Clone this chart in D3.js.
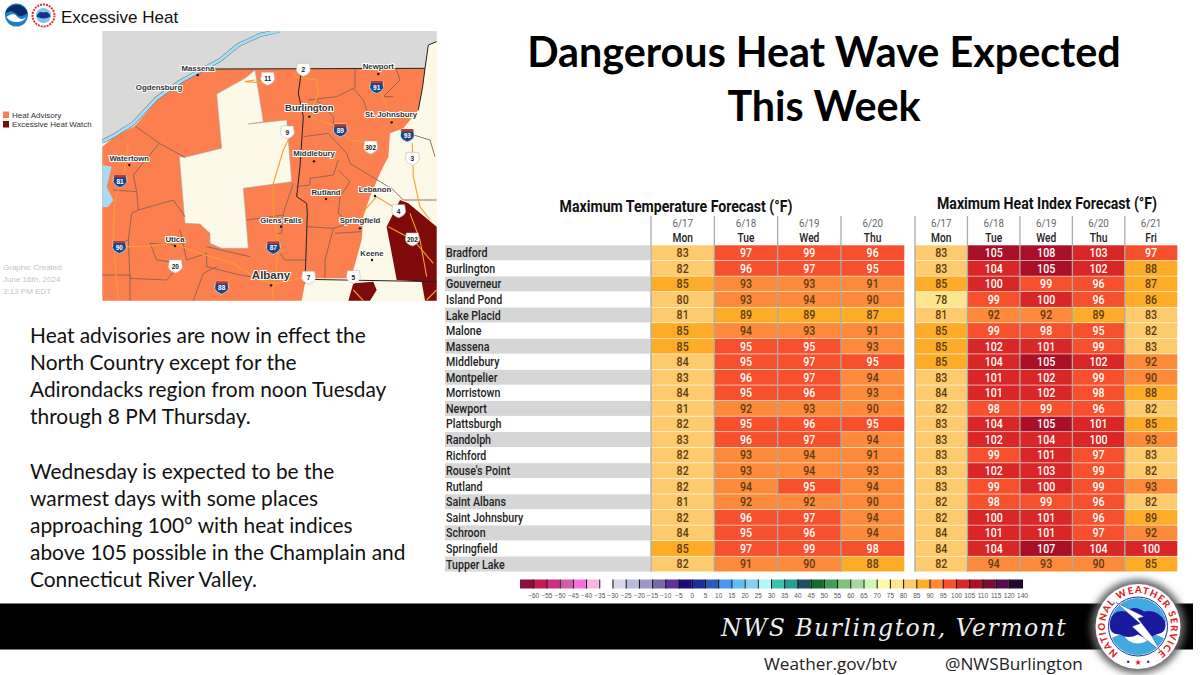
<!DOCTYPE html>
<html>
<head>
<meta charset="utf-8">
<script src="https://cdn.jsdelivr.net/npm/d3@7"></script>
<style>
body { margin: 0; background: #fff; }
svg { display: block; }
text { font-family: Lato, sans-serif; }
.narrow { font-family: Roboto, sans-serif; }
.map-label { font-family: "Liberation Sans", sans-serif; font-weight: 700; fill: #333; stroke: #fff; stroke-width: 2px; paint-order: stroke; }
</style>
</head>
<body>
<svg id="chart" width="1200" height="675"></svg>
<script>
let stations = ["Bradford","Burlington","Gouverneur","Island Pond","Lake Placid","Malone","Massena","Middlebury","Montpelier","Morristown","Newport","Plattsburgh","Randolph","Richford","Rouse's Point","Rutland","Saint Albans","Saint Johnsbury","Schroon","Springfield","Tupper Lake"]
let tempDates = ["6/17","6/18","6/19","6/20"]
let tempDays = ["Mon","Tue","Wed","Thu"]
let tempValues = [[83,97,99,96],[82,96,97,95],[85,93,93,91],[80,93,94,90],[81,89,89,87],[85,94,93,91],[85,95,95,93],[84,95,97,95],[83,96,97,94],[84,95,96,93],[81,92,93,90],[82,95,96,95],[83,96,97,94],[82,93,94,91],[82,93,94,93],[82,94,95,94],[81,92,92,90],[82,96,97,94],[84,95,96,94],[85,97,99,98],[82,91,90,88]]
let heatDates = ["6/17","6/18","6/19","6/20","6/21"]
let heatDays = ["Mon","Tue","Wed","Thu","Fri"]
let heatValues = [[83,105,108,103,97],[83,104,105,102,88],[85,100,99,96,87],[78,99,100,96,86],[81,92,92,89,83],[85,99,98,95,82],[85,102,101,99,83],[85,104,105,102,92],[83,101,102,99,90],[84,101,102,98,88],[82,98,99,96,82],[83,104,105,101,85],[83,102,104,100,93],[83,99,101,97,83],[83,102,103,99,82],[83,99,100,99,93],[82,98,99,96,82],[82,100,101,96,89],[84,101,101,97,92],[84,104,107,104,100],[82,94,93,90,85]]

let legendTicks = [-60,-55,-50,-45,-40,-35,-30,-25,-20,-15,-10,-5,0,5,10,15,20,25,30,35,40,45,50,55,60,65,70,75,80,85,90,95,100,105,110,115,120,140]
let legendColors = ["#8a0f3c","#c51d52","#d12a83","#cd5fa6","#f86edc","#fdb4e3","#ffffff","#d8d8ea","#bbb9dc","#9e98c9","#7a68ac","#5e2f9a","#1e0a7c","#1f2e96","#2a5cb5","#4a96f0","#5fbef0","#88cdf2","#b0f5f7","#3fc2ad","#2a9a95","#20505f","#136b2f","#3f9f58","#7fc07a","#a5d8a0","#cff7b8","#fefba5","#fde68f","#fdcb6e","#feac28","#fd8a3a","#f6502c","#d92626","#a91028","#7a0c2e","#570a4e","#25082f"]

let titleLines = ["Dangerous Heat Wave Expected","This Week"]
let bodyLines = ["Heat advisories are now in effect the","North Country except for the","Adirondacks region from noon Tuesday","through 8 PM Thursday.","","Wednesday is expected to be the","warmest days with some places","approaching 100° with heat indices","above 105 possible in the Champlain and","Connecticut River Valley."]

// map shapes in crop units (3x)
let grayLand = [[307,92],[1310,92],[1310,125],[1285,135],[1275,205],[640,207],[590,215],[540,240],[480,285],[405,375],[350,405],[307,430]]
let advisoryArea = [[307,440],[345,408],[405,378],[480,290],[545,240],[590,218],[640,207],[1275,205],[1268,260],[1255,330],[1210,385],[1170,400],[1165,470],[1140,520],[1110,590],[1090,650],[1085,720],[1060,810],[1060,835],[950,835],[915,850],[905,902],[307,902]]
let adirondacks = [[650,282],[735,235],[765,210],[790,365],[745,372],[860,360],[875,545],[730,565],[745,745],[665,745],[630,730],[630,700],[600,672],[555,670],[538,470],[555,472],[665,445]]
let watchAreas = [
  [[1200,600],[1225,610],[1310,680],[1310,845],[1270,845],[1190,840],[1160,680]],
  [[1265,845],[1310,845],[1310,902],[1275,902]],
  [[1045,902],[1060,850],[1120,845],[1130,870],[1110,902]]
]
let lakeOntario = [[307,495],[335,500],[320,560],[340,600],[325,620],[307,622]]
let riverLine = [[838,92],[780,105],[715,135],[660,180],[600,212],[540,245],[470,295],[400,370],[345,405],[307,425]]
let countyLines = [
  [[405,378],[478,430],[555,472]],
  [[478,430],[400,525],[410,575],[340,570]],
  [[410,575],[415,630],[395,640],[385,720],[340,730]],
  [[415,630],[520,600],[555,650]],
  [[385,720],[390,835],[500,840],[545,790],[470,780],[450,730],[525,735]],
  [[307,825],[390,825],[390,902]],
  [[540,690],[560,780],[620,760],[620,800],[720,825],[750,830]],
  [[620,740],[750,770]],
  [[650,800],[610,820],[580,902]],
  [[925,300],[1010,290],[1060,265],[1090,300],[1105,345]],
  [[1065,205],[1065,265]],
  [[1190,210],[1200,240],[1150,290],[1180,290]],
  [[1000,390],[1000,350],[950,300]],
  [[910,410],[985,400],[1040,460],[1050,490],[1165,560]],
  [[1015,480],[1000,525],[930,535],[930,555],[890,560]],
  [[1015,510],[1050,545],[1020,590],[1015,640],[1050,670],[1000,685],[920,680]],
  [[1000,685],[975,780],[975,835]],
  [[1085,695],[1005,700]],
  [[850,640],[880,550]],
  [[850,640],[845,700],[830,700]],
  [[740,660],[850,645]],
  [[920,780],[855,780],[840,760]],
  [[1225,400],[1290,420],[1305,470]],
  [[1170,560],[1210,600],[1310,600]]
]
let stateLines = [
  [[640,207],[1275,205]],
  [[905,207],[895,280],[910,350],[900,500],[890,590],[920,610],[922,640],[915,850]],
  [[915,838],[1310,845]],
  [[1310,125],[1285,135],[1275,205],[1268,260],[1255,330]]
]
let roads = [
  [[385,430],[370,530],[345,600],[340,700],[345,790],[355,902]],
  [[340,740],[430,740],[520,730],[600,760],[700,790],[780,840],[830,850],[900,835]],
  [[815,902],[830,800],[835,720],[820,640],[820,550],[850,450],[865,420]],
  [[880,230],[950,240],[955,280],[925,350],[1000,375],[1050,420],[1130,430]],
  [[1130,260],[1150,290],[1175,367],[1225,410]],
  [[1237,430],[1240,530],[1260,620],[1290,660]],
  [[1195,630],[1130,590],[1085,640]],
  [[1165,680],[1240,720],[1300,790]],
  [[1230,640],[1260,720],[1280,830]],
  [[1060,870],[1090,902]],
  [[1280,900],[1310,870]],
  [[640,880],[700,830]],
  [[765,240],[735,245],[800,250]]
]
let cities = [["Massena",594,205,593,225,7.8],["Ogdensburg",477,263,null,null,7.8],["Newport",1135,198,1135,222,7.8],["Burlington",928,322,928,350,9.6],["St. Johnsbury",1173,342,1175,367,7.8],["Watertown",388,476,388,495,7.8],["Middlebury",942,460,942,484,7.8],["Rutland",978,577,978,597,7.8],["Lebanon",1125,568,1125,588,7.8],["Glens Falls",843,660,843,680,7.8],["Springfield",1080,660,1080,685,7.8],["Utica",525,718,525,738,7.8],["Keene",1116,760,1116,780,7.8],["Albany",813,826,813,856,11.5]]
let shields = [["11",803,235,"us"],["2",910,208,"us"],["91",1130,260,"i"],["9",862,396,"us"],["89",1021,390,"i"],["93",1222,405,"i"],["302",1112,441,"us"],["3",1237,475,"us"],["81",360,542,"i"],["4",1196,632,"us"],["202",1237,717,"us"],["90",358,740,"i"],["87",820,742,"i"],["20",526,798,"us"],["88",665,862,"i"],["7",926,832,"us"],["5",1060,830,"us"]]

let svg = d3.select("#chart")
let defs = svg.append("defs")
defs.append("filter").attr("id","blur").attr("x","-30%").attr("y","-30%").attr("width","160%").attr("height","160%")
    .append("feGaussianBlur").attr("stdDeviation",3.5)
defs.append("clipPath").attr("id","mapClip").append("rect")
    .attr("x",102).attr("y",31).attr("width",335).attr("height",270)

// color for a value, same bins as the legend
let color = d3.scaleThreshold().domain(legendTicks).range([legendColors[0]].concat(legendColors.slice(1),legendColors[legendColors.length-1]))

let rowScale = d3.scaleBand().domain(stations).range([245,571.8]).paddingInner(0.04).paddingOuter(0.02)

// no condensed font is installed so squeeze Roboto sideways
function squeeze(sel, x, y, k){
    sel.attr("transform",(d,i)=>`translate(${x(d,i)},${y(d,i)}) scale(${k},1)`)
}

function drawTable(title, titleX, titleY, dates, days, values, x0, x1){
    let g = svg.append("g")
    let xs = d3.scaleBand().domain(d3.range(dates.length)).range([x0,x1])
    g.append("text").attr("class","narrow")
        .attr("text-anchor","middle").attr("font-size",16.5).attr("font-weight",700).attr("fill","#111").text(title)
        .call(squeeze,()=>titleX,()=>titleY,0.855)

    let rows = g.selectAll("g.row").data(values).join("g").attr("class","row")
    rows.selectAll("rect").data((d,i)=>d.map((v,j)=>({v:v,j:j,i:i}))).join("rect")
        .attr("x",d=>xs(d.j)).attr("width",xs.bandwidth())
        .attr("y",d=>rowScale(stations[d.i])).attr("height",rowScale.bandwidth())
        .attr("fill",d=>color(d.v))
    rows.selectAll("text").data((d,i)=>d.map((v,j)=>({v:v,j:j,i:i}))).join("text")
        .attr("class","narrow")
        .attr("text-anchor","middle").attr("font-size",12.5)
        .attr("font-weight",500)
        .attr("fill",d=>d.v>=95?"#fff":"#5a3c10")
        .text(d=>d.v)
        .call(squeeze,d=>xs(d.j)+xs.bandwidth()/2,d=>rowScale(stations[d.i])+rowScale.bandwidth()/2+4.4,0.85)

    g.selectAll("text.date").data(dates).join("text").attr("class","date narrow")
        .attr("text-anchor","middle").attr("font-size",11.5).attr("fill","#666").text(d=>d)
        .call(squeeze,(d,i)=>xs(i)+xs.bandwidth()/2,()=>227,0.85)
    g.selectAll("text.day").data(days).join("text").attr("class","day narrow")
        .attr("text-anchor","middle").attr("font-size",12).attr("font-weight",500).attr("fill","#222").text(d=>d)
        .call(squeeze,(d,i)=>xs(i)+xs.bandwidth()/2,()=>242,0.85)
    g.selectAll("line").data(d3.range(dates.length)).join("line")
        .attr("x1",d=>xs(d)).attr("x2",d=>xs(d)).attr("y1",216).attr("y2",571.8)
        .attr("stroke","#aaa").attr("stroke-width",1.3)
}

// station names
svg.selectAll("rect.band").data(stations.filter((d,i)=>i%2==0)).join("rect").attr("class","band")
    .attr("x",445).attr("width",205).attr("y",d=>rowScale(d)).attr("height",rowScale.bandwidth())
    .attr("fill","#d6d6d6")
svg.selectAll("text.station").data(stations).join("text").attr("class","station narrow")
    .attr("font-size",13).attr("font-weight",500).attr("fill","#222").text(d=>d)
    .call(squeeze,()=>446,d=>rowScale(d)+rowScale.bandwidth()/2+4.5,0.82)

drawTable("Maximum Temperature Forecast (°F)",676,212,tempDates,tempDays,tempValues,651,904.3)
drawTable("Maximum Heat Index Forecast (°F)",1047,209,heatDates,heatDays,heatValues,915,1177.3)

// legend
let legendX = d3.scaleBand().domain(legendTicks).range([520,1022])
svg.selectAll("rect.swatch").data(legendTicks).join("rect").attr("class","swatch")
    .attr("x",d=>legendX(d)).attr("y",579.5).attr("width",legendX.bandwidth()).attr("height",9)
    .attr("fill",(d,i)=>legendColors[i])
let legendPoint = d3.scalePoint().domain(legendTicks).range([520+legendX.bandwidth(),1022])
let legendAxis = svg.append("g").attr("transform","translate(0,579.5)")
    .call(d3.axisBottom(legendPoint).tickSize(9).tickPadding(3).tickFormat(d=>d<0?"−"+(-d):d))
legendAxis.select(".domain").remove()
legendAxis.selectAll("line").attr("stroke","#111").attr("stroke-width",1)
legendAxis.selectAll("text").style("font-family","'Liberation Sans',sans-serif").attr("font-size",6.5).attr("fill","#555")
    .attr("y",14)

// headline
svg.selectAll("text.title").data(titleLines).join("text").attr("class","title")
    .attr("x",824).attr("y",(d,i)=>67+i*54).attr("text-anchor","middle")
    .attr("font-size",41.3).attr("font-weight",700).attr("fill","#000").text(d=>d)

// body text
let bodyY = d3.scaleLinear().domain([0,9]).range([343,587])
svg.selectAll("text.body").data(bodyLines).join("text").attr("class","body")
    .attr("x",30).attr("y",(d,i)=>bodyY(i))
    .attr("font-size",20.9).attr("fill","#111").text(d=>d)

// map
let mapX = d3.scaleLinear().domain([0,3]).range([0,1])
let mapY = d3.scaleLinear().domain([0,3]).range([0,1])
let path = d3.line().x(d=>mapX(d[0])).y(d=>mapY(d[1]))
let map = svg.append("g").attr("clip-path","url(#mapClip)")
map.append("rect").attr("x",102).attr("y",31).attr("width",335).attr("height",270).attr("fill","#fdf9e8")
map.append("path").attr("d",path(grayLand)+"Z").attr("fill","#d9d9d9")
map.append("path").attr("d",path(advisoryArea)+"Z").attr("fill","#fb7f4f")
map.append("path").attr("d",path(adirondacks)+"Z").attr("fill","#fdf9e8").attr("stroke","#aaa").attr("stroke-width",0.6)
map.selectAll("path.watch").data(watchAreas).join("path").attr("class","watch").attr("d",d=>path(d)+"Z").attr("fill","#7e0a0a")
map.append("path").attr("d",path(lakeOntario)+"Z").attr("fill","#a8dcf5")
map.append("path").attr("d",path(riverLine)).attr("fill","none").attr("stroke","#5a7a90").attr("stroke-width",4)
map.append("path").attr("d",path(riverLine)).attr("fill","none").attr("stroke","#a8dcf5").attr("stroke-width",3)
map.selectAll("path.county").data(countyLines).join("path").attr("class","county").attr("d",path).attr("fill","none").attr("stroke","#8a6352").attr("stroke-width",0.9)
map.selectAll("path.road").data(roads).join("path").attr("class","road").attr("d",path).attr("fill","none").attr("stroke","#f5a030").attr("stroke-width",1.1)
map.selectAll("path.state").data(stateLines).join("path").attr("class","state").attr("d",path).attr("fill","none").attr("stroke","#222").attr("stroke-width",1)

map.selectAll("circle.city").data(cities.filter(d=>d[3]!=null)).join("circle").attr("class","city")
    .attr("cx",d=>mapX(d[3])).attr("cy",d=>mapY(d[4])).attr("r",1.2).attr("fill","#111")
map.selectAll("text.map-label").data(cities).join("text").attr("class","map-label")
    .attr("x",d=>mapX(d[1])).attr("y",d=>mapY(d[2])+d[5]*0.35).attr("text-anchor","middle")
    .attr("font-size",d=>d[5]).text(d=>d[0])

let shieldG = map.selectAll("g.shield").data(shields).join("g").attr("class","shield")
    .attr("transform",d=>`translate(${mapX(d[1])},${mapY(d[2])})`)
shieldG.append("path").attr("d","M-6,-6 H6 L7,1 Q6,5 0,7 Q-6,5 -7,1 Z")
    .attr("fill",d=>d[3]=="i"?"#1c4587":"#fff").attr("stroke",d=>d[3]=="i"?"#fff":"#bbb").attr("stroke-width",0.6)
shieldG.filter(d=>d[3]=="i").append("rect").attr("x",-6).attr("y",-6).attr("width",12).attr("height",2.6).attr("fill","#c0392b")
shieldG.append("text").attr("text-anchor","middle").attr("y",3).attr("font-size",6.5).attr("font-weight",700)
    .style("font-family","'Liberation Sans',sans-serif").attr("fill",d=>d[3]=="i"?"#fff":"#222").text(d=>d[0])

// header of the map
let noaa = svg.append("g").attr("transform","translate(16.5,15)")
noaa.append("circle").attr("r",11.5).attr("fill","#1f7fc4")
noaa.append("path").attr("d","M-11,-2 A11.5,11.5 0 0 1 11,-2 Q4,4 0,-1 Q-5,-6 -11,-2 Z").attr("fill","#0b2a6b")
noaa.append("path").attr("d","M-10,2 Q-3,-4 1,2 Q5,6 10,2 Q7,7 0,7 Q-7,7 -10,2 Z").attr("fill","#fff")
let nwsSmall = svg.append("g").attr("transform","translate(43.5,15.5)")
nwsSmall.append("circle").attr("r",11).attr("fill","#fff").attr("stroke","#d33").attr("stroke-width",2).attr("stroke-dasharray","2 1")
nwsSmall.append("circle").attr("r",7.5).attr("fill","#7cc4e8")
nwsSmall.append("path").attr("d","M-7,1 Q-5,-5 0,-3 Q5,-5 7,1 Q0,5 -7,1 Z").attr("fill","#1c2f8f")
svg.append("text").attr("x",61).attr("y",22.5).style("font-family","'Liberation Sans',sans-serif")
    .attr("font-size",17).attr("fill","#111").text("Excessive Heat")

let keyItems = [["Heat Advisory","#fb7f4f"],["Excessive Heat Watch","#7e0a0a"]]
let keyY = d3.scalePoint().domain(keyItems.map(d=>d[0])).range([115,124.5])
svg.selectAll("rect.key").data(keyItems).join("rect").attr("class","key")
    .attr("x",3).attr("y",d=>keyY(d[0])-3.5).attr("width",6).attr("height",6.5).attr("fill",d=>d[1])
svg.selectAll("text.key").data(keyItems).join("text").attr("class","key")
    .attr("x",12).attr("y",d=>keyY(d[0])+2.5).style("font-family","'Liberation Sans',sans-serif")
    .attr("font-size",8).attr("fill","#333").text(d=>d[0])

let createdLines = ["Graphic Created","June 16th, 2024","3:13 PM EDT"]
svg.selectAll("text.created").data(createdLines).join("text").attr("class","created")
    .attr("x",3).attr("y",(d,i)=>270+i*12).style("font-family","'Liberation Sans',sans-serif")
    .attr("font-size",8).attr("fill","#c4c4c4").text(d=>d)

// footer
svg.append("rect").attr("x",0).attr("y",603.5).attr("width",1193).attr("height",46).attr("fill","#000")
svg.append("text").attr("x",721).attr("y",636).style("font-family","'DejaVu Serif',serif").attr("font-style","italic")
    .attr("font-size",23.5).attr("letter-spacing",1.5).attr("fill","#eee").text("NWS Burlington, Vermont")
svg.append("text").attr("x",764).attr("y",670).style("font-family","'Open Sans',sans-serif").attr("font-size",17.2).attr("fill","#222").text("Weather.gov/btv")
svg.append("text").attr("x",945).attr("y",670).style("font-family","'Open Sans',sans-serif").attr("font-size",17.2).attr("fill","#222").text("@NWSBurlington")

// NWS seal
let seal = svg.append("g").attr("transform","translate(1138,626.5)")
seal.append("circle").attr("r",47).attr("fill","#666").attr("filter","url(#blur)")
seal.append("circle").attr("r",42.5).attr("fill","#fff")
seal.append("circle").attr("r",29.5).attr("fill","#fff").attr("stroke","#1c2f8f").attr("stroke-width",1)
seal.append("path").attr("d",d3.arc()({innerRadius:16,outerRadius:28.5,startAngle:-1.4,endAngle:1.4})).attr("fill","#3fa9e0")
seal.append("path").attr("d",d3.arc()({innerRadius:17,outerRadius:28.5,startAngle:2.0,endAngle:4.3})).attr("fill","#3fa9e0")
seal.append("path").attr("d","M-28,-5 Q-25,-18 -12,-15 Q-4,-22 6,-15 Q20,-18 27,-5 Q30,6 18,8 Q8,14 0,8 Q-10,13 -18,8 Q-30,8 -28,-5 Z").attr("fill","#1a1a9e")
seal.append("path").attr("d","M-22,-24 L6,-10 L0,-8 L14,10 L22,24 L8,13 L-6,0 L2,-3 Z").attr("fill","#fff").attr("stroke","#1a1a9e").attr("stroke-width",0.4)
defs.append("path").attr("id","sealRing").attr("d","M0,33 A33,33 0 1 1 0,-33 A33,33 0 1 1 0,33")
seal.append("text").attr("font-size",9.5).attr("font-weight",900).attr("fill","#e31b23")
    .append("textPath").attr("href","#sealRing").attr("startOffset","50%").attr("text-anchor","middle")
    .attr("textLength",165).text("NATIONAL WEATHER SERVICE")
let stars = [["★",0,"#e31b23",8],["•",-10,"#1c2f8f",8],["•",10,"#1c2f8f",8]]
seal.selectAll("text.star").data(stars).join("text").attr("class","star").attr("x",d=>d[1]).attr("y",38).attr("text-anchor","middle")
    .attr("font-size",d=>d[3]).attr("fill",d=>d[2]).style("font-family","'DejaVu Sans',sans-serif").text(d=>d[0])
</script>
</body>
</html>
